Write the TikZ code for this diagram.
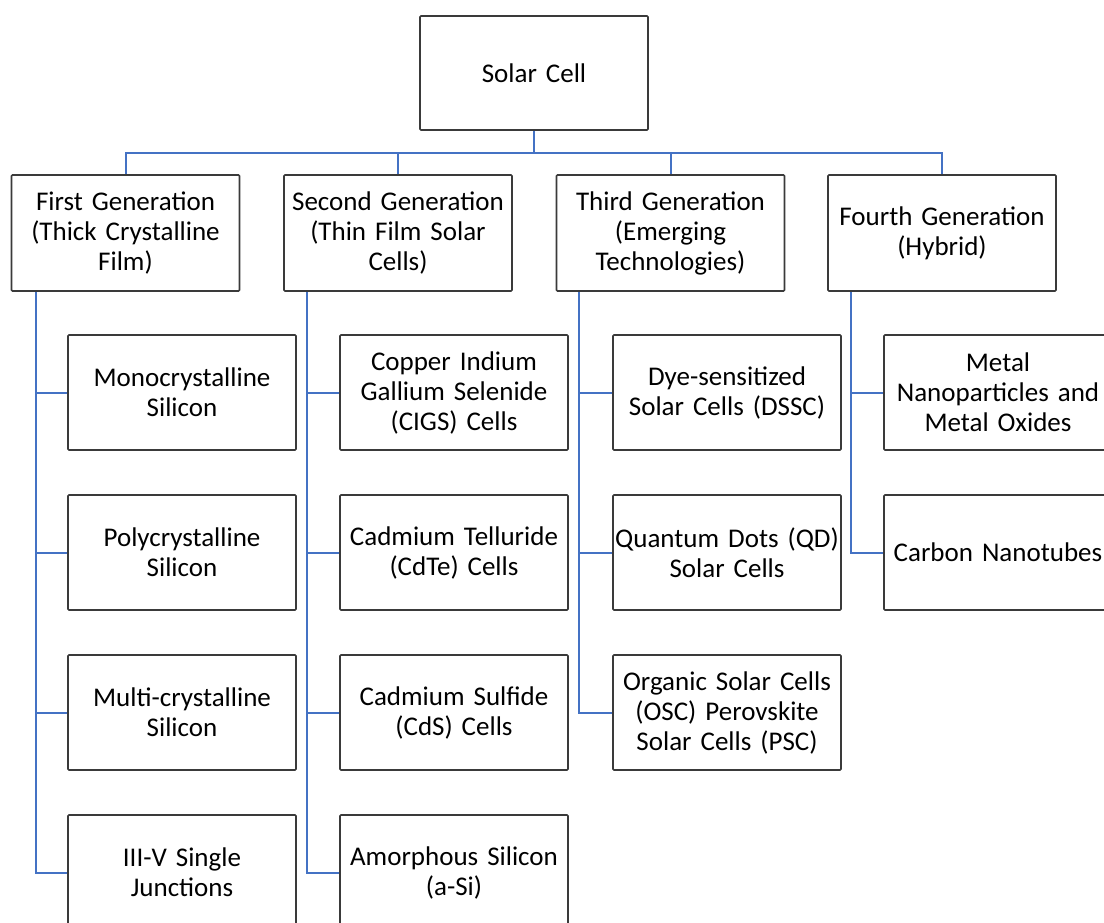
\documentclass[tikz,border=0pt]{standalone}
\usepackage{fontspec}
\setmainfont{Carlito}
\definecolor{linkblue}{HTML}{4472C4}
\definecolor{boxline}{HTML}{3A3A3A}
\begin{document}
\begin{tikzpicture}[x=1pt,y=-1pt,
  box/.style={draw=boxline, line width=1.6pt, rounded corners=1pt,
    minimum width=228pt, minimum height=115pt, inner sep=0pt,
    text width=226pt, align=center, font=\fontsize{27}{30}\selectfont},
  link/.style={draw=linkblue, line width=2pt}]
\useasboundingbox (0,0) rectangle (1104,923);
\clip (0,0) rectangle (1104,923);

% root and generations
\node[box, minimum height=114pt] (root) at (534,73) {Solar Cell};
\node[box, minimum height=116pt] (g1) at (125.5,233) {First Generation\\(Thick Crystalline\\Film)};
\node[box, minimum height=116pt] (g2) at (398,233) {Second Generation\\(Thin Film Solar\\Cells)};
\node[box, minimum height=116pt] (g3) at (670.5,233) {Third Generation\\(Emerging\\Technologies)};
\node[box, minimum height=116pt] (g4) at (942,233) {Fourth Generation\\(Hybrid)};

% first generation
\node[box] (c11) at (182,392.5) {Monocrystalline\\Silicon};
\node[box] (c12) at (182,552.5) {Polycrystalline\\Silicon};
\node[box] (c13) at (182,712.5) {Multi-crystalline\\Silicon};
\node[box] (c14) at (182,872.5) {III-V Single\\Junctions};
% second generation
\node[box] (c21) at (454,392.5) {Copper Indium\\Gallium Selenide\\(CIGS) Cells};
\node[box] (c22) at (454,552.5) {Cadmium Telluride\\(CdTe) Cells};
\node[box] (c23) at (454,712.5) {Cadmium Sulfide\\(CdS) Cells};
\node[box] (c24) at (454,872.5) {Amorphous Silicon\\(a-Si)};
% third generation
\node[box] (c31) at (727,392.5) {Dye-sensitized\\Solar Cells (DSSC)};
\node[box] (c32) at (727,552.5) {Quantum Dots (QD)\\Solar Cells};
\node[box] (c33) at (727,712.5) {Organic Solar Cells\\(OSC) Perovskite\\Solar Cells (PSC)};
% fourth generation
\node[box] (c41) at (998,392.5) {Metal\\Nanoparticles and\\Metal Oxides};
\node[box] (c42) at (998,552.5) {Carbon Nanotubes};

% bus under the root
\coordinate (bus) at (534,153);
\draw[link] (root.south) -- (bus);
\draw[link] (g1.north) |- (bus) -| (g4.north);
\draw[link] (g2.north) -- (g2.north |- bus);
\draw[link] (g3.north) -- (g3.north |- bus);

% trunks from each generation
\coordinate (t1) at ([xshift=25pt]g1.south west);
\coordinate (t2) at ([xshift=24pt]g2.south west);
\coordinate (t3) at ([xshift=23pt]g3.south west);
\coordinate (t4) at ([xshift=24pt]g4.south west);
\foreach \c in {c11,c12,c13,c14} \draw[link] (\c.west) -| (t1);
\foreach \c in {c21,c22,c23,c24} \draw[link] (\c.west) -| (t2);
\foreach \c in {c31,c32,c33} \draw[link] (\c.west) -| (t3);
\foreach \c in {c41,c42} \draw[link] (\c.west) -| (t4);
\end{tikzpicture}
\end{document}
